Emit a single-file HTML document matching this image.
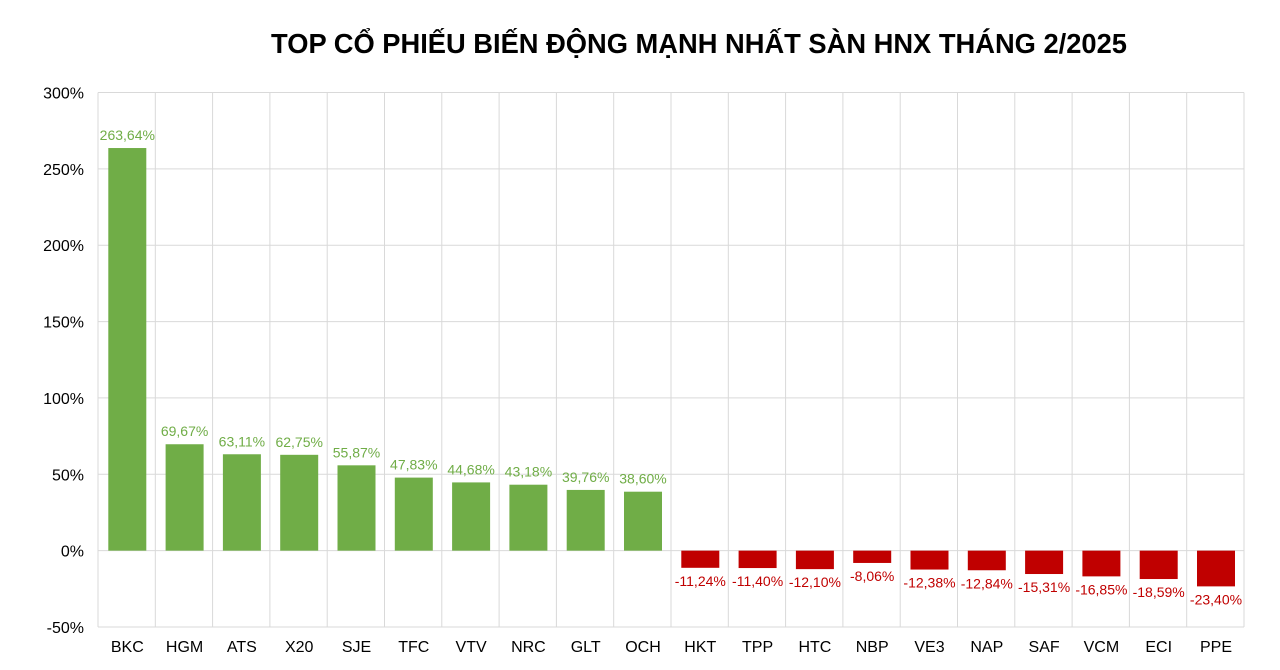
<!DOCTYPE html>
<html><head><meta charset="utf-8"><style>
html,body{margin:0;padding:0;background:#fff;}
svg{display:block;font-family:"Liberation Sans",Arial,sans-serif;}
</style></head><body>
<svg width="1280" height="670" viewBox="0 0 1280 670" xmlns="http://www.w3.org/2000/svg">
<text x="699" y="53" text-anchor="middle" font-size="27.3" font-weight="bold" fill="#000">TOP CỔ PHIẾU BIẾN ĐỘNG MẠNH NHẤT SÀN HNX THÁNG 2/2025</text>
<g id="grid" stroke="#d9d9d9" stroke-width="1"></g>
<g id="bars"></g>
<g id="labels"></g>
<script>
const x0=98,x1=1244,yTop=92.5,yBot=627,scale=(yBot-yTop)/350,zero=yBot-50*scale;
const cats=["BKC","HGM","ATS","X20","SJE","TFC","VTV","NRC","GLT","OCH","HKT","TPP","HTC","NBP","VE3","NAP","SAF","VCM","ECI","PPE"];
const vals=[263.64,69.67,63.11,62.75,55.87,47.83,44.68,43.18,39.76,38.60,-11.24,-11.40,-12.10,-8.06,-12.38,-12.84,-15.31,-16.85,-18.59,-23.40];
const ns="http://www.w3.org/2000/svg";
const g=document.getElementById("grid"),b=document.getElementById("bars"),l=document.getElementById("labels");
function el(p,t,a,txt){const e=document.createElementNS(ns,t);for(const k in a)e.setAttribute(k,a[k]);if(txt!=null)e.textContent=txt;p.appendChild(e);return e;}
const cw=(x1-x0)/20;
for(let v=-50;v<=300;v+=50){const y=zero-v*scale;el(g,"line",{x1:x0,x2:x1,y1:y,y2:y});
el(l,"text",{x:84,y:y+6,"text-anchor":"end","font-size":"16",fill:"#000"},v+"%");}
for(let i=0;i<=20;i++){const x=x0+i*cw;el(g,"line",{x1:x,x2:x,y1:yTop,y2:yBot});}
cats.forEach((c,i)=>{const v=vals[i];const bx=x0+i*cw+10.3;const pos=v>=0;const col=pos?"#70ad47":"#c00000";
const y=pos?zero-v*scale:zero;const h=Math.abs(v)*scale;
el(b,"rect",{x:bx,y:y,width:38,height:h,fill:col});
const cx=bx+19;const s=v.toFixed(2).replace(".",",")+"%";
el(l,"text",{x:cx,y:pos?y-8:zero+h+18,"text-anchor":"middle","font-size":"14",fill:col},s);
el(l,"text",{x:cx,y:652,"text-anchor":"middle","font-size":"16",fill:"#000"},c);});
</script>
</svg>
</body></html>
